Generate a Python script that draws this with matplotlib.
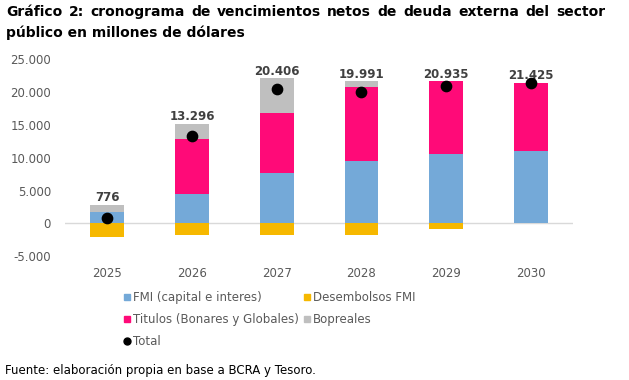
import matplotlib
matplotlib.use("Agg")
import matplotlib.pyplot as plt
from matplotlib.lines import Line2D
import numpy as np

years = ["2025", "2026", "2027", "2028", "2029", "2030"]
fmi = [1750, 4450, 7620, 9450, 10520, 10970]
desembolsos = [-2024, -1854, -1780, -1780, -860, 0]
titulos = [0, 8400, 9190, 11280, 11120, 10455]
bopreales = [1050, 2300, 5290, 930, 0, 0]
total = [776, 13296, 20406, 19991, 20935, 21425]
total_labels = ["776", "13.296", "20.406", "19.991", "20.935", "21.425"]
yticks = [-5000, 0, 5000, 10000, 15000, 20000, 25000]
ytick_labels = ["-5.000", "0", "5.000", "10.000", "15.000", "20.000", "25.000"]
title_line1 = "Gráfico 2: cronograma de vencimientos netos de deuda externa del sector"
title_line2 = "público en millones de dólares"
source = "Fuente: elaboración propia en base a BCRA y Tesoro."

c_fmi = "#74A9D8"
c_des = "#F6B800"
c_tit = "#FF0A78"
c_bop = "#BFBFBF"
gray = "#595959"

plt.rcParams['font.family'] = ['DejaVu Sans']

fig = plt.figure(figsize=(6.29, 3.80), dpi=100)
ax = fig.add_axes([0.1033, 0.326, 0.808, 0.518])

x = np.arange(len(years))
w = 0.4
fmi_a = np.array(fmi, float)
tit_a = np.array(titulos, float)
bop_a = np.array(bopreales, float)
ax.bar(x, fmi_a, w, color=c_fmi, zorder=2)
ax.bar(x, desembolsos, w, color=c_des, zorder=2)
ax.bar(x, tit_a, w, bottom=fmi_a, color=c_tit, zorder=2)
ax.bar(x, bop_a, w, bottom=fmi_a + tit_a, color=c_bop, zorder=2)
ax.scatter(x, total, s=55, color="black", zorder=4)

tops = fmi_a + tit_a + bop_a
for xi, t, lab in zip(x, tops, total_labels):
    ax.annotate(lab, (xi, t), xytext=(0, 0.5), textcoords="offset points",
                ha="center", va="bottom", fontsize=8.5, fontweight="bold",
                color="#404040")

ax.axhline(0, color="#D9D9D9", lw=1, zorder=1)
ax.set_xlim(-0.5, 5.5)
ax.set_ylim(-5000, 25000)
ax.set_yticks(yticks)
ax.set_yticklabels(ytick_labels)
ax.set_xticks(x)
ax.set_xticklabels(years)
for s in ax.spines.values():
    s.set_visible(False)
ax.tick_params(axis="both", length=0, labelsize=8.5, labelcolor=gray)
ax.tick_params(axis="y", pad=10)
ax.tick_params(axis="x", pad=8)

handles = [
    Line2D([], [], marker="s", ls="", color=c_fmi, markersize=5),
    Line2D([], [], marker="s", ls="", color=c_tit, markersize=5),
    Line2D([], [], marker="o", ls="", color="black", markersize=5),
    Line2D([], [], marker="s", ls="", color=c_des, markersize=5),
    Line2D([], [], marker="s", ls="", color=c_bop, markersize=5),
]
labels = ["FMI (capital e interes)", "Titulos (Bonares y Globales)", "Total",
          "Desembolsos FMI", "Bopreales"]
leg = fig.legend(handles, labels, ncol=2, loc="upper left",
                 bbox_to_anchor=(0.196, 0.234), frameon=False, fontsize=8.5,
                 handlelength=0.6, handletextpad=0.2, columnspacing=0.4,
                 labelspacing=0.75, borderaxespad=0, borderpad=0)
for t in leg.get_texts():
    t.set_color(gray)

# Justified first title line
renderer = fig.canvas.get_renderer()
x0_px, x1_px = 6, 605
words = title_line1.split(" ")
objs = [fig.text(0, 0.968, wd, fontsize=10, fontweight="bold", ha="left",
                 va="center", color="black") for wd in words]
widths = [o.get_window_extent(renderer).width for o in objs]
gap = ((x1_px - x0_px) - sum(widths)) / (len(words) - 1)
cur = x0_px
figw = fig.bbox.width
for o, wdt in zip(objs, widths):
    o.set_x(cur / figw)
    cur += wdt + gap

fig.text(x0_px / figw, 0.913, title_line2,
         fontsize=10, fontweight="bold", ha="left", va="center", color="black")
fig.text(0.008, 0.026, source,
         fontsize=8.5, ha="left", va="center", color="black")

fig.savefig("out.png", dpi=100)
